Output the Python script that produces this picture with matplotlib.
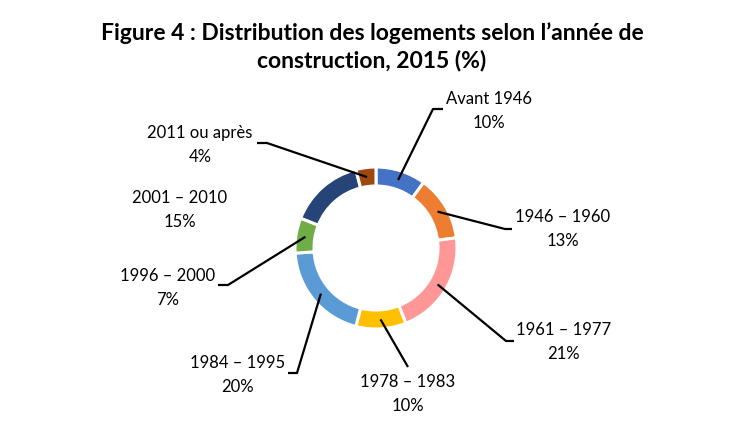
"""Donut chart: distribution des logements selon l'année de construction, 2015."""

import matplotlib
matplotlib.use("Agg")
import matplotlib.pyplot as plt
import numpy as np

W, H = 729, 437

periods = ["Avant 1946", "1946 – 1960", "1961 – 1977", "1978 – 1983",
           "1984 – 1995", "1996 – 2000", "2001 – 2010", "2011 ou après"]
shares = [10, 13, 21, 10, 20, 7, 15, 4]
colors = ["#4472C4", "#ED7D31", "#FF9797", "#FFC000",
          "#5B9BD5", "#70AD47", "#264478", "#9E480E"]

# label text centres and leader elbows, in pixels from the top-left corner
label_pos = [(489, 111), (563, 229), (564, 342), (408, 394),
             (238, 375), (168, 288), (180, 210), (200, 145)]
elbows = [[(433, 109), (443, 109)],
          [(505, 229), (512, 229)],
          [(506, 341), (514, 341)],
          [(408, 367)],
          [(297, 373), (288, 373)],
          [(228, 285), (218, 285)],
          None,
          [(267, 143), (257, 143)]]

CX, CY, R, RING = 376, 248, 81, 19

plt.rcParams["font.family"] = ["Lato", "DejaVu Sans"]

fig = plt.figure(figsize=(W / 100, H / 100), dpi=100)
ax = fig.add_axes([0, 0, 1, 1])
ax.axis("off")


def py(y):
    return H - y


wedges, _ = ax.pie(shares, colors=colors, startangle=90, counterclock=False,
                   center=(CX, py(CY)), radius=R,
                   wedgeprops=dict(width=RING, edgecolor="white", linewidth=2.2))
ax.set_xlim(0, W)
ax.set_ylim(0, H)
ax.set_aspect("equal")

for w, name, val, (tx, ty), elb in zip(wedges, periods, shares, label_pos, elbows):
    mid = np.deg2rad((w.theta1 + w.theta2) / 2)
    rm = R - RING / 2
    ax0 = CX + rm * np.cos(mid)
    ay0 = py(CY) + rm * np.sin(mid)
    ax.text(tx, py(ty), f"{name}\n{val}%", ha="center", va="center",
            fontsize=12, linespacing=1.6, color="black")
    if elb is not None:
        xs = [ax0] + [p[0] for p in elb]
        ys = [ay0] + [py(p[1]) for p in elb]
        ax.plot(xs, ys, color="black", lw=1.6, solid_capstyle="butt")

fig.text(372 / W, 1 - 47 / H,
         "Figure 4 : Distribution des logements selon l’année de\n"
         "construction, 2015 (%)",
         ha="center", va="center", fontsize=16.5, fontweight="bold",
         linespacing=1.3)

fig.savefig("out.png", dpi=100)
